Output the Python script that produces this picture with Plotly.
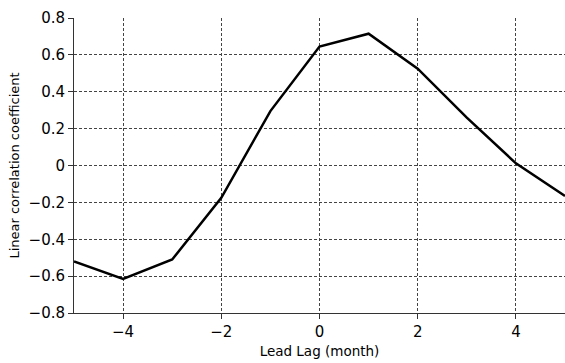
import plotly.graph_objects as go

lags = [-5, -4, -3, -2, -1, 0, 1, 2, 3, 4, 5]
corr = [-0.52, -0.615, -0.51, -0.175, 0.295, 0.645, 0.715, 0.525, 0.26, 0.012, -0.165]
x_ticks = [-4, -2, 0, 2, 4]
y_ticks = [-0.8, -0.6, -0.4, -0.2, 0, 0.2, 0.4, 0.6, 0.8]
y_labels = ["\u22120.8", "\u22120.6", "\u22120.4", "\u22120.2", "0", "0.2", "0.4", "0.6", "0.8"]
x_labels = ["\u22124", "\u22122", "0", "2", "4"]

fig = go.Figure(go.Scatter(x=lags, y=corr, mode="lines",
                           line=dict(color="black", width=2.5), cliponaxis=False))

fig.update_layout(
    width=565, height=363,
    margin=dict(l=74, r=0, t=18, b=50, autoexpand=False),
    paper_bgcolor="white", plot_bgcolor="white",
    showlegend=False,
    font=dict(family="DejaVu Sans", color="black"),
)
fig.update_xaxes(
    range=[-5, 5], tickvals=x_ticks, ticktext=x_labels,
    showline=True, linecolor="#333", linewidth=1,
    ticks="outside", ticklen=5, tickcolor="#333",
    showgrid=True, gridcolor="#444", griddash="3px,2px", gridwidth=0.8,
    zeroline=False, tickfont=dict(size=15),
    title=dict(text="Lead Lag (month)", font=dict(size=13.5), standoff=6),
)
fig.update_yaxes(
    range=[-0.8, 0.8], tickvals=y_ticks, ticktext=y_labels,
    showline=True, linecolor="#333", linewidth=1,
    ticks="outside", ticklen=5, tickcolor="#333",
    showgrid=True, gridcolor="#444", griddash="3px,2px", gridwidth=0.8,
    zeroline=False, tickfont=dict(size=15),
    title=dict(text="Linear correlation coefficient", font=dict(size=13), standoff=6),
)

fig.write_html("out.html", config={"displayModeBar": False},
               post_script="document.body.style.margin='0';document.body.style.overflow='hidden';")
